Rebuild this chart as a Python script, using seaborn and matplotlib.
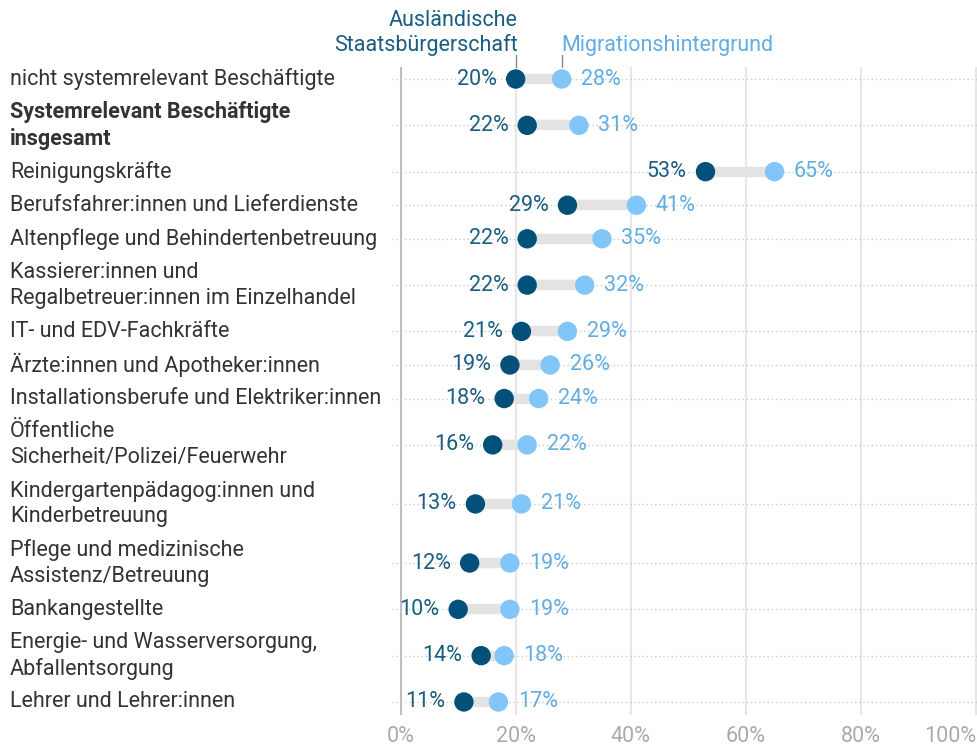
import numpy as np
import pandas as pd
import matplotlib
matplotlib.use("Agg")
import matplotlib.pyplot as plt
from matplotlib.transforms import blended_transform_factory
import seaborn as sns

categories = [
    "nicht systemrelevant Beschäftigte",
    "Systemrelevant Beschäftigte\ninsgesamt",
    "Reinigungskräfte",
    "Berufsfahrer:innen und Lieferdienste",
    "Altenpflege und Behindertenbetreuung",
    "Kassierer:innen und\nRegalbetreuer:innen im Einzelhandel",
    "IT- und EDV-Fachkräfte",
    "Ärzte:innen und Apotheker:innen",
    "Installationsberufe und Elektriker:innen",
    "Öffentliche\nSicherheit/Polizei/Feuerwehr",
    "Kindergartenpädagog:innen und\nKinderbetreuung",
    "Pflege und medizinische\nAssistenz/Betreuung",
    "Bankangestellte",
    "Energie- und Wasserversorgung,\nAbfallentsorgung",
    "Lehrer und Lehrer:innen",
]
auslaendisch = [20, 22, 53, 29, 22, 22, 21, 19, 18, 16, 13, 12, 10, 14, 11]
migration = [28, 31, 65, 41, 35, 32, 29, 26, 24, 22, 21, 19, 19, 18, 17]
series_names = ["Ausländische\nStaatsbürgerschaft", "Migrationshintergrund"]
x_ticks = [0, 20, 40, 60, 80, 100]

DARK = "#03507a"
LIGHT = "#82c5f8"
DARK_TXT = "#195d80"
LIGHT_TXT = "#62ade2"
FS = 15.5

sns.set_theme(style="white")
plt.rcParams["font.family"] = ["Roboto", "DejaVu Sans"]

# row heights depend on number of label lines
heights = [1.0 if "\n" not in c else 1.76 for c in categories]
tops = np.concatenate([[0], np.cumsum(heights)[:-1]])
ypos = tops + np.array(heights) / 2

df = pd.DataFrame({
    "cat": categories * 2,
    "y": list(ypos) * 2,
    "val": auslaendisch + migration,
    "series": [series_names[0]] * len(categories) + [series_names[1]] * len(categories),
})

fig = plt.figure(figsize=(9.77, 7.49), dpi=100)
ax = fig.add_axes([392 / 977, 1 - 715 / 749, 1 - 392 / 977, 648 / 749])

for t in x_ticks:
    ax.axvline(t, color="#bdbdbd" if t == 0 else "#e6e6e6", lw=1.5, zorder=0)
for y in ypos:
    ax.axhline(y, color="#cccccc", lw=1, ls=(0, (1, 2)), zorder=0)

ax.hlines(ypos, auslaendisch, migration, color="#e3e3e3", lw=7.5, zorder=1)
sns.scatterplot(data=df, x="val", y="y", hue="series", palette=[DARK, LIGHT],
                s=195, linewidth=0, ax=ax, legend=False, zorder=3)

for y, a, m in zip(ypos, auslaendisch, migration):
    ax.annotate(f"{a}%", (a, y), xytext=(-13.5, 0), textcoords="offset points",
                ha="right", va="center", fontsize=FS, color=DARK_TXT)
    ax.annotate(f"{m}%", (m, y), xytext=(14, 0), textcoords="offset points",
                ha="left", va="center", fontsize=FS, color=LIGHT_TXT)

lab_tr = blended_transform_factory(fig.transFigure, ax.transData)
for y, c in zip(ypos, categories):
    bold = c.startswith("Systemrelevant")
    ax.text(10 / 977, y, c, transform=lab_tr, ha="left", va="center", fontsize=FS,
            color="#333333", linespacing=1.3, clip_on=False,
            fontweight="bold" if bold else "normal")

# series labels above the first row
xt = ax.get_xaxis_transform()
for xv, name, col, ha in [(auslaendisch[0], series_names[0], DARK_TXT, "right"),
                          (migration[0], series_names[1], LIGHT_TXT, "left")]:
    ax.plot([xv, xv], [1.0, 1.0185], color="#888888", lw=1, transform=xt, clip_on=False)
    ax.text(xv + (0.4 if ha == "right" else 0), 1.017, name, transform=xt, ha=ha, va="bottom",
            fontsize=FS, color=col, linespacing=1.15, multialignment="right")

ax.set_xlim(-1.5, 100.2)
ax.set_ylim(ypos[-1] + 13 / 33.5, ypos[0] - 12 / 33.5)
ax.set_yticks([])
ax.set_xticks(x_ticks)
ax.set_xticklabels([f"{t}%" for t in x_ticks], fontsize=FS, color="#aaaaaa")
ax.get_xticklabels()[-1].set_ha("right")
ax.tick_params(axis="x", length=0, pad=8)
ax.set_xlabel("")
ax.set_ylabel("")
sns.despine(ax=ax, left=True, bottom=True)

fig.savefig("out.png", dpi=100)
